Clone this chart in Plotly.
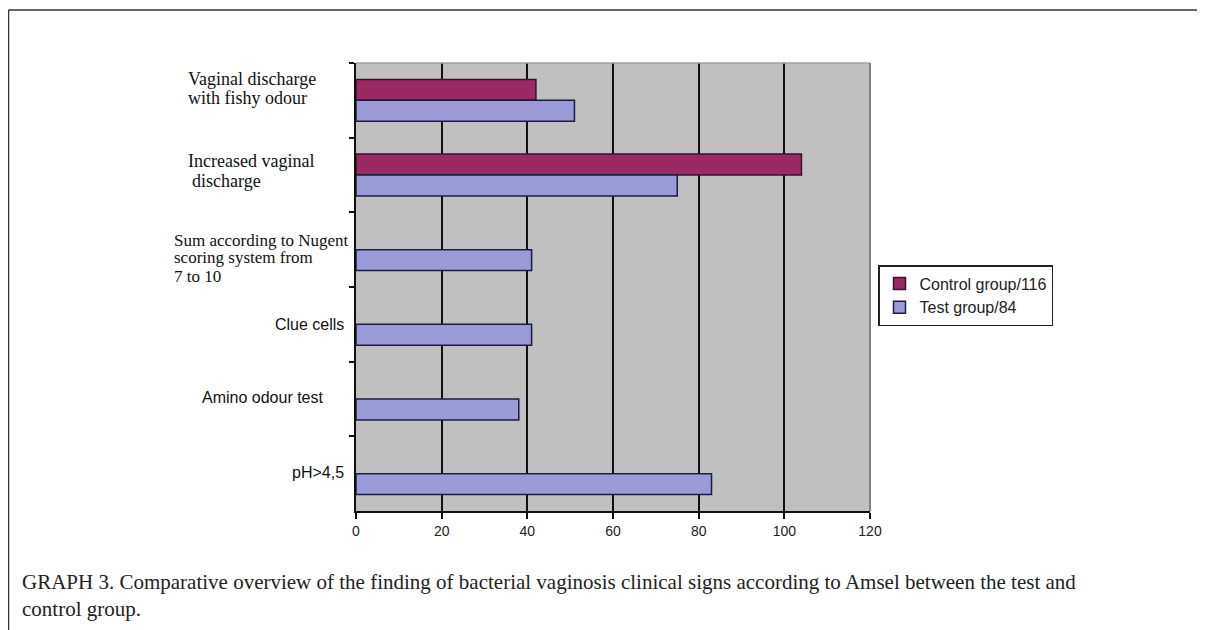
import plotly.graph_objects as go

categories = [
    "Vaginal discharge with fishy odour",
    "Increased vaginal discharge",
    "Sum according to Nugent scoring system from 7 to 10",
    "Clue cells",
    "Amino odour test",
    "pH>4,5",
]
control_values = [42, 104, None, None, None, None]
test_values = [51, 75, 41, 41, 38, 83]
series_names = ["Control group/116", "Test group/84"]
x_ticks = [0, 20, 40, 60, 80, 100, 120]

# page body has an 8px margin; work in page pixel coordinates
OFF = 8
PAGE_W, PAGE_H = 1205, 630
W, H = PAGE_W - OFF, PAGE_H - OFF
L, R, T, B = 356, 870, 63, 511   # plot area in page pixels


def px_x(p):
    return (p - L) / (R - L)


def px_y(p):
    return (B - p) / (B - T)


fig = go.Figure()
fig.add_trace(go.Bar(
    y=categories, x=control_values, orientation="h", name=series_names[0],
    marker=dict(color="#9b2a62", line=dict(color="#3a1030", width=1.5)),
))
fig.add_trace(go.Bar(
    y=categories, x=test_values, orientation="h", name=series_names[1],
    marker=dict(color="#9a9ad6", line=dict(color="#1c1c40", width=1.5)),
))

fig.update_layout(
    width=W, height=H,
    margin=dict(l=L - OFF, r=PAGE_W - R, t=T - OFF, b=PAGE_H - B),
    paper_bgcolor="white",
    plot_bgcolor="#c0c0c0",
    barmode="group",
    bargap=0.44,
    bargroupgap=0,
    showlegend=True,
    legend=dict(
        x=px_x(878), y=px_y(265), xanchor="left", yanchor="top",
        bgcolor="white", bordercolor="#222", borderwidth=1.5,
        font=dict(family="Liberation Sans, Arial", size=16, color="#222"),
        traceorder="normal", itemwidth=30, tracegroupgap=0,
    ),
    xaxis=dict(
        range=[0, 120], tickvals=x_ticks, ticktext=[str(v) for v in x_ticks],
        showgrid=True, gridcolor="#111", gridwidth=1.5,
        zeroline=False, showline=True, linecolor="#111", linewidth=1.5,
        ticks="outside", ticklen=6, tickcolor="#111", tickwidth=1.5,
        tickfont=dict(family="Liberation Sans, Arial", size=14, color="#222"),
        fixedrange=True,
    ),
    yaxis=dict(
        type="category", categoryorder="array", categoryarray=categories,
        autorange="reversed", tickson="boundaries",
        ticks="outside", ticklen=5, tickcolor="#111", tickwidth=1.5,
        showticklabels=False, showgrid=False, zeroline=False,
        showline=True, linecolor="#111", linewidth=1.5,
        fixedrange=True,
    ),
)

# plot-area right and top borders (grey)
fig.add_shape(type="line", xref="paper", yref="paper", x0=1, x1=1, y0=0, y1=1,
              line=dict(color="#808080", width=2), layer="above")
fig.add_shape(type="line", xref="paper", yref="paper", x0=0, x1=1, y0=1, y1=1,
              line=dict(color="#a0a0a0", width=1.5), layer="above")

# page frame lines
fig.add_shape(type="line", xref="paper", yref="paper",
              x0=px_x(8.5), x1=px_x(8.5), y0=px_y(10), y1=px_y(640),
              line=dict(color="#333", width=1.5))
fig.add_shape(type="line", xref="paper", yref="paper",
              x0=px_x(8.5), x1=px_x(1215), y0=px_y(10), y1=px_y(10),
              line=dict(color="#333", width=1.5))

serif = "Liberation Serif, Times New Roman, serif"
sans = "Liberation Sans, Arial, sans-serif"

# (text, x px, y px, anchor, font, size) — one entry per line
label_lines = [
    ("Vaginal discharge", 186, 79, "left", serif, 18),
    ("with fishy odour", 186, 98, "left", serif, 18),
    ("Increased vaginal", 186, 161, "left", serif, 18),
    ("discharge", 190, 181, "left", serif, 18),
    ("Sum according to Nugent", 172, 240, "left", serif, 17),
    ("scoring system from", 172, 258, "left", serif, 17),
    ("7 to 10", 172, 276, "left", serif, 17),
    ("Clue cells", 346, 324, "right", sans, 16),
    ("Amino odour test", 326, 397, "right", sans, 16),
    ("pH>4,5", 346, 472, "right", sans, 16),
]
for text, xp, yp, anchor, fam, size in label_lines:
    fig.add_annotation(
        text=text, xref="paper", yref="paper", x=px_x(xp), y=px_y(yp),
        xanchor=anchor, yanchor="middle", align="left", showarrow=False,
        font=dict(family=fam, size=size, color="#111"),
    )

fig.add_annotation(
    text="GRAPH 3. Comparative overview of the finding of bacterial vaginosis clinical signs according to Amsel between the test and<br>control group.",
    xref="paper", yref="paper", x=px_x(20), y=px_y(595),
    xanchor="left", yanchor="middle", align="left", showarrow=False,
    font=dict(family=serif, size=21, color="#222"),
)

fig.write_html("out.html")
